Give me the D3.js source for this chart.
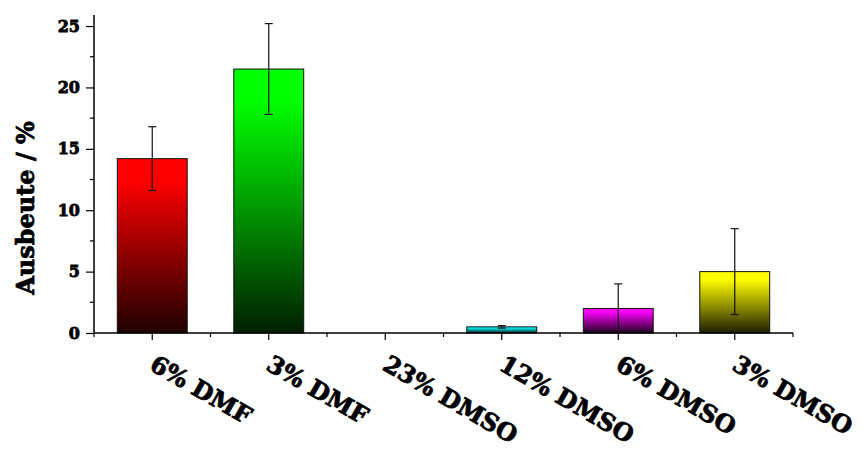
<!DOCTYPE html>
<html>
<head>
<meta charset="utf-8">
<script src="https://cdn.jsdelivr.net/npm/d3@7"></script>
<style>
  body { margin: 0; background: #fff; }
  text { font-family: "DejaVu Serif", serif; font-weight: bold; stroke: #000; stroke-width: 0.8px; fill: #000; }
</style>
</head>
<body>
<div id="chart"></div>
<script>
// values
var categories = ["6% DMF", "3% DMF", "23% DMSO", "12% DMSO", "6% DMSO", "3% DMSO"]
var yields = [14.2, 21.5, 0, 0.5, 2.0, 5.0]
var errors = [2.6, 3.7, 0, 0.1, 2.0, 3.5]
var barColors = ["#ff0000", "#00ff00", "#0000ff", "#00ffff", "#ff00ff", "#ffff00"]
var yTicks = [0, 5, 10, 15, 20, 25]
var yMinorTicks = [2.5, 7.5, 12.5, 17.5, 22.5]

var width = 863,
    height = 454

var svg = d3.select("#chart").append("svg")
  .attr("width", width)
  .attr("height", height)

var x = d3.scaleBand()
  .domain(categories)
  .range([94, 793])
  .paddingInner(0.4)
  .paddingOuter(0.2)

var y = d3.scaleLinear()
  .domain([0, 25.9])
  .range([333, 15])

// gradients: colour at the top fading to near black at the base
var defs = svg.append("defs")
categories.forEach(function(c, i) {
  var g = defs.append("linearGradient")
    .attr("id", "grad" + i)
    .attr("x1", 0).attr("y1", 0).attr("x2", 0).attr("y2", 1)
  g.append("stop").attr("offset", "0%").attr("stop-color", barColors[i])
  g.append("stop").attr("offset", "12%").attr("stop-color", barColors[i])
  g.append("stop").attr("offset", "100%").attr("stop-color", d3.interpolateRgb(barColors[i], "#000")(0.88))
})

// bars
svg.selectAll("rect.bar")
  .data(categories)
  .enter()
  .append("rect")
  .attr("class", "bar")
  .attr("x", function(d) { return x(d) })
  .attr("width", x.bandwidth())
  .attr("y", function(d, i) { return y(yields[i]) })
  .attr("height", function(d, i) { return y(0) - y(yields[i]) })
  .attr("fill", function(d, i) { return "url(#grad" + i + ")" })
  .attr("stroke", "#111")
  .attr("stroke-width", 1)
  .style("display", function(d, i) { return yields[i] > 0 ? null : "none" })

// error bars
var err = svg.selectAll("g.err")
  .data(categories.filter(function(d, i) { return errors[i] > 0 }))
  .enter()
  .append("g")
  .attr("class", "err")
  .attr("stroke", "#111")
  .attr("stroke-width", 1.2)

function cx(d) { return x(d) + x.bandwidth() / 2 }
function idx(d) { return categories.indexOf(d) }

err.append("line")
  .attr("x1", cx).attr("x2", cx)
  .attr("y1", function(d) { return y(Math.max(0, yields[idx(d)] - errors[idx(d)])) })
  .attr("y2", function(d) { return y(yields[idx(d)] + errors[idx(d)]) })
err.append("line")
  .attr("x1", function(d) { return cx(d) - 4 }).attr("x2", function(d) { return cx(d) + 4 })
  .attr("y1", function(d) { return y(yields[idx(d)] + errors[idx(d)]) })
  .attr("y2", function(d) { return y(yields[idx(d)] + errors[idx(d)]) })
err.filter(function(d) { return yields[idx(d)] - errors[idx(d)] > 0 })
  .append("line")
  .attr("x1", function(d) { return cx(d) - 4 }).attr("x2", function(d) { return cx(d) + 4 })
  .attr("y1", function(d) { return y(yields[idx(d)] - errors[idx(d)]) })
  .attr("y2", function(d) { return y(yields[idx(d)] - errors[idx(d)]) })

// y axis
var yAxis = svg.append("g")
  .attr("transform", "translate(94,0)")
  .call(d3.axisLeft(y).tickValues(yTicks).tickSize(8).tickPadding(6))
yAxis.select(".domain").attr("d", "M0," + y(0) + "V15").attr("stroke-width", 1.5)
yAxis.selectAll(".tick line").attr("stroke-width", 1.2)
yAxis.selectAll(".tick text")
  .style("font-size", "16px")
  .attr("fill", "#000")

svg.append("g")
  .attr("transform", "translate(94,0)")
  .selectAll("line")
  .data(yMinorTicks)
  .enter()
  .append("line")
  .attr("x1", -4).attr("x2", 0)
  .attr("y1", function(d) { return y(d) }).attr("y2", function(d) { return y(d) })
  .attr("stroke", "#000").attr("stroke-width", 1.2)

// x axis
var xAxis = svg.append("g")
  .attr("transform", "translate(0," + y(0) + ")")
  .call(d3.axisBottom(x).tickSize(7).tickFormat(""))
xAxis.select(".domain").attr("d", "M94,0H793").attr("stroke-width", 1.5)
xAxis.selectAll(".tick line").attr("stroke-width", 1.2)

var step = x.step()
svg.append("g")
  .attr("transform", "translate(0," + y(0) + ")")
  .selectAll("line")
  .data(categories.concat(["end"]))
  .enter()
  .append("line")
  .attr("x1", function(d, i) { return 94 + i * step })
  .attr("x2", function(d, i) { return 94 + i * step })
  .attr("y1", 0).attr("y2", 4)
  .attr("stroke", "#000").attr("stroke-width", 1.2)

svg.append("g")
  .selectAll("text")
  .data(categories)
  .enter()
  .append("text")
  .attr("transform", function(d) { return "translate(" + (cx(d) - 4) + ",369) rotate(30)" })
  .style("font-size", "24px")
  .text(function(d) { return d })

// y title
svg.append("text")
  .attr("transform", "translate(34,208) rotate(-90)")
  .attr("text-anchor", "middle")
  .style("font-size", "24px")
  .text("Ausbeute / %")
</script>
</body>
</html>
